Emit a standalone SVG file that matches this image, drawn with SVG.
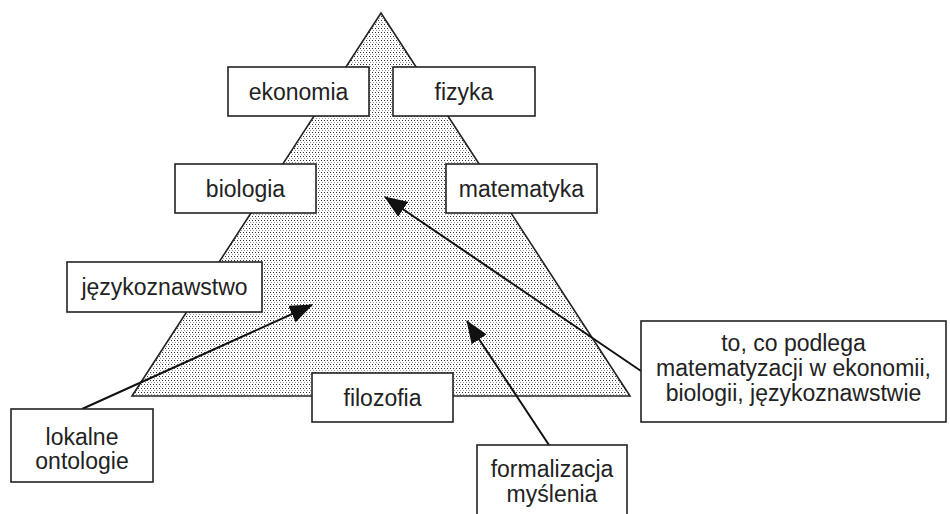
<svg xmlns="http://www.w3.org/2000/svg" width="950" height="514" viewBox="0 0 950 514">
<style>
.box{fill:#fff;stroke:#222;stroke-width:1.6}
.t{font-family:"Liberation Sans",Arial,sans-serif;font-size:23px;fill:#222;text-anchor:middle}
.conn{stroke:#111;stroke-width:2;fill:none;marker-end:url(#ah)}
</style>
<defs>
<pattern id="dots" width="3" height="4" patternUnits="userSpaceOnUse">
<rect width="3" height="4" fill="#fff"/>
<rect x="0" y="0" width="1" height="1" fill="#333"/>
<rect x="1" y="2" width="1" height="1" fill="#9a9a9a"/>
</pattern>
<marker id="ah" markerUnits="userSpaceOnUse" markerWidth="24" markerHeight="18" viewBox="0 0 24 18" refX="22" refY="9" orient="auto">
<path d="M0,0 L23,9 L0,18 Z" fill="#111"/>
</marker>
</defs>
<rect width="950" height="514" fill="#fff"/>
<polygon id="triangle" points="381,13 132,396 630,396" fill="url(#dots)" stroke="#222" stroke-width="1.6"/>
<g id="connectors">
<line class="conn" x1="641" y1="371" x2="385" y2="197"/>
<line class="conn" x1="82" y1="409" x2="312" y2="305"/>
<line class="conn" x1="549" y1="445" x2="467" y2="321"/>
</g>
<g id="ekonomia"><rect class="box" x="228" y="67" width="141" height="49"/><text class="t" x="298.5" y="100">ekonomia</text></g>
<g id="fizyka"><rect class="box" x="393" y="67" width="142" height="49"/><text class="t" x="464" y="100">fizyka</text></g>
<g id="biologia"><rect class="box" x="175" y="164" width="141" height="49"/><text class="t" x="245.5" y="197">biologia</text></g>
<g id="matematyka"><rect class="box" x="446" y="164" width="151" height="49"/><text class="t" x="521.5" y="197">matematyka</text></g>
<g id="jezykoznawstwo"><rect class="box" x="67" y="262" width="195" height="50"/><text class="t" x="164.5" y="295">językoznawstwo</text></g>
<g id="filozofia"><rect class="box" x="312" y="373" width="141" height="49"/><text class="t" x="382.5" y="406">filozofia</text></g>
<g id="podlega"><rect class="box" x="641" y="321" width="305" height="101"/><text class="t" x="793.5" y="351">to, co podlega</text><text class="t" x="793.5" y="376">matematyzacji w ekonomii,</text><text class="t" x="793.5" y="401">biologii, językoznawstwie</text></g>
<g id="lokalne"><rect class="box" x="11" y="409" width="142" height="73"/><text class="t" x="82" y="445">lokalne</text><text class="t" x="82" y="469">ontologie</text></g>
<g id="formalizacja"><rect class="box" x="477" y="445" width="150" height="80"/><text class="t" x="552" y="477">formalizacja</text><text class="t" x="552" y="502">myślenia</text></g>
</svg>
